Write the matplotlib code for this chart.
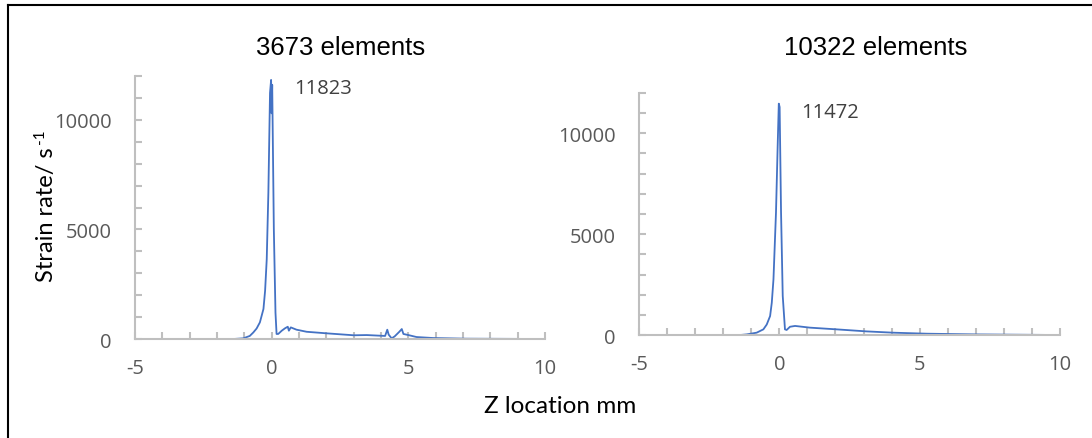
import matplotlib
matplotlib.use("Agg")
import matplotlib.pyplot as plt
from matplotlib.ticker import MultipleLocator, FixedLocator

plt.rcParams["axes.unicode_minus"] = False

# strain rate along Z for the coarse mesh (3673 elements)
z_coarse = [-5.0, -1.4, -1.04, -0.8, -0.67, -0.55, -0.43, -0.3, -0.24, -0.18,
            -0.12, -0.06, -0.02, 0.0, 0.02, 0.08, 0.14, 0.18, 0.24, 0.37, 0.49,
            0.59, 0.63, 0.7, 0.91, 1.28, 2.0, 3.0, 3.48, 4.15, 4.23, 4.28,
            4.39, 4.5, 4.67, 4.76, 4.82, 5.0, 5.3, 5.9, 7.1, 10.0]
rate_coarse = [0, 0, 30, 140, 300, 480, 760, 1370, 2200, 3640,
               6680, 11230, 11823, 10300, 11600, 5000, 1200, 230, 230, 380, 490,
               560, 380, 530, 425, 330, 260, 170, 180, 140, 425, 200,
               30, 120, 330, 455, 230, 180, 90, 45, 15, 0]

# strain rate along Z for the fine mesh (10322 elements)
z_fine = [-5.0, -1.4, -1.17, -0.81, -0.57, -0.45, -0.33, -0.27, -0.21, -0.12,
          -0.06, -0.02, 0.01, 0.06, 0.12, 0.2, 0.26, 0.38, 0.56, 1.09, 2.04,
          3.1, 4.06, 5.25, 7.03, 10.0]
rate_fine = [0, 0, 30, 115, 280, 520, 940, 1600, 2760, 6080,
             9390, 11472, 11300, 6080, 1940, 280, 250, 410, 450, 365, 280,
             180, 115, 65, 30, 0]

titles = ["3673 elements", "10322 elements"]
title_x = [0.312, 0.802]
peaks = [11823, 11472]

blue = "#4472C4"
grey_axis = "#BFBFBF"
grey_text = "#595959"

fig = plt.figure(figsize=(10.92, 4.39), dpi=100)

ax1 = fig.add_axes([0.1236, 0.2255, 0.3755, 0.599])
ax2 = fig.add_axes([0.5852, 0.2346, 0.3855, 0.5513])

for ax, z, rate, title, tx, peak in zip([ax1, ax2], [z_coarse, z_fine],
                                        [rate_coarse, rate_fine], titles,
                                        title_x, peaks):
    ax.plot(z, rate, color=blue, lw=1.3)
    ax.set_xlim(-5, 10)
    ax.set_ylim(0, 12000)
    for side in ["top", "right"]:
        ax.spines[side].set_visible(False)
    for side in ["left", "bottom"]:
        ax.spines[side].set_color(grey_axis)
        ax.spines[side].set_linewidth(1.5)
    ax.xaxis.set_major_locator(FixedLocator([-5, 0, 5, 10]))
    ax.xaxis.set_minor_locator(MultipleLocator(1))
    ax.yaxis.set_major_locator(FixedLocator([0, 5000, 10000]))
    ax.yaxis.set_minor_locator(MultipleLocator(1000))
    ax.tick_params(axis="both", which="both", direction="in", length=5,
                   width=1.5, color=grey_axis, labelcolor=grey_text,
                   labelsize=14.5)
    ax.tick_params(axis="x", which="major", pad=14)
    ax.tick_params(axis="y", which="major", pad=17)
    for lab in ax.get_xticklabels() + ax.get_yticklabels():
        lab.set_fontfamily("Open Sans")
    fig.text(tx, 0.89, title, fontsize=18.5, family="Liberation Sans",
             color="black", ha="center", va="center")
    # peak value label to the right of the spike
    ax.annotate(str(peak), xy=(0, peak), xytext=(16, -6),
                textcoords="offset points", fontsize=14.5, family="Open Sans",
                color="#404040", va="center", ha="left")

# y label with a plain-text superscript
fig.text(46 / 1092, 1 - 215 / 439, "Strain rate/ s", rotation=90,
         fontsize=17, family="Lato", ha="center", va="center")
fig.text(40 / 1092, 1 - 137 / 439, "-1", rotation=90,
         fontsize=11, family="Lato", ha="center", va="center")
fig.text(0.513, 0.073, "Z location mm", fontsize=17.5, family="Lato",
         ha="center", va="center")

# frame lines on the left and top edges
fig.add_artist(plt.Line2D([0.0075, 0.0075], [0.0, 0.986], color="black",
                          lw=1.5, transform=fig.transFigure))
fig.add_artist(plt.Line2D([0.0075, 1.0], [0.986, 0.986], color="black",
                          lw=1.5, transform=fig.transFigure))

fig.savefig("out.png", dpi=100)
